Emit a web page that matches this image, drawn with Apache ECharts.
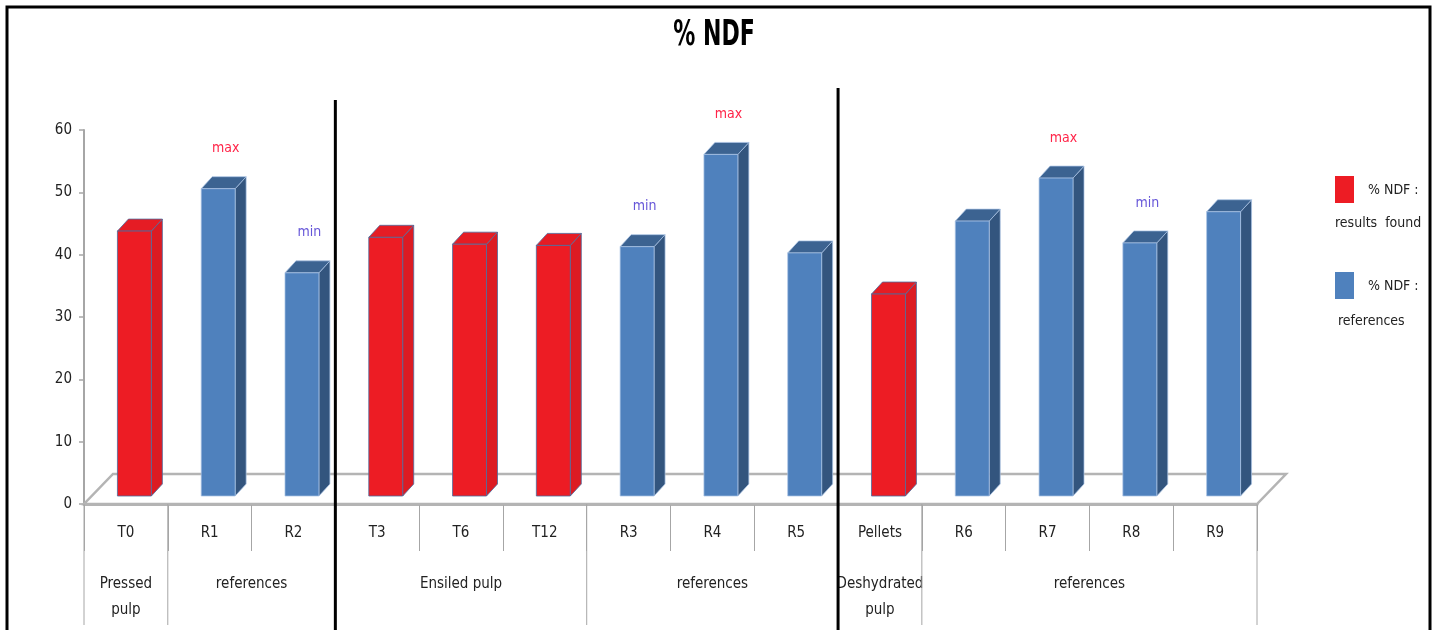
<!DOCTYPE html>
<html>
<head>
<meta charset="utf-8">
<title>% NDF</title>
<script src="https://cdn.jsdelivr.net/npm/echarts@6/dist/echarts.min.js"></script>
<style>
  html, body { margin: 0; padding: 0; background: #ffffff; }
  #chart { width: 1432px; height: 630px; }
</style>
</head>
<body>
<div id="chart"></div>
<script>
// Samples along the x axis
const categories = ['T0', 'R1', 'R2', 'T3', 'T6', 'T12', 'R3', 'R4', 'R5', 'Pellets', 'R6', 'R7', 'R8', 'R9'];

// % NDF measured in this work (null where the column is a literature reference)
const foundValues = [42.5, null, null, 41.5, 40.4, 40.2, null, null, null, 32.4, null, null, null, null];

// % NDF taken from the literature
const referenceValues = [null, 49.3, 35.8, null, null, null, 40.0, 54.8, 39.0, null, 44.1, 51.0, 40.6, 45.6];

// Extreme-value notes written above some reference columns
const extremeNotes = ['', 'max', 'min', '', '', '', 'min', 'max', '', '', '', 'max', 'min', ''];

// Second row of the category axis: product groups
const groupLabels = ['Pressed\npulp', 'references', 'Ensiled pulp', 'references', 'Deshydrated\npulp', 'references'];
const groupStart = [0, 1, 3, 6, 9, 10];
const groupEnd = [0, 2, 5, 8, 9, 13];

// Product families are separated by a heavy rule after these columns
const familyBreakAfter = [2, 8];

// Y axis ticks
const yTicks = [0, 10, 20, 30, 40, 50, 60];

const FONT = "'DejaVu Sans Condensed', 'DejaVu Sans', sans-serif";

// Pseudo-3D geometry (pixels)
const FRONT_DX = 8.5, FRONT_DY = -8;   // bar front plane behind the axis plane
const DEPTH_DX = 11, DEPTH_DY = -12;   // bar depth
const FLOOR_DX = 29, FLOOR_DY = -30;   // floor depth
const BAR_RATIO = 0.405;

const RED = { front: '#ED1C24', side: '#DC1B23', top: '#E51C24', edge: '#4d6c9e' };
const BLUE = { front: '#4F81BD', side: '#33557E', top: '#3C6391', edge: 'rgba(170,195,228,0.9)' };

function toPairs(arr) {
  const out = [];
  arr.forEach(function (v, i) { if (v !== null) out.push([i, v]); });
  return out;
}

function makeBarRenderer(palette) {
  return function (params, api) {
    const idx = api.value(0);
    const val = api.value(1);
    const top = api.coord([idx, val]);
    const base = api.coord([idx, 0]);
    const bw = api.size([1, 0])[0];
    const w = bw * BAR_RATIO;
    const cx = top[0] + FRONT_DX;
    const xl = cx - w / 2, xr = cx + w / 2;
    const yt = top[1] + FRONT_DY, yb = base[1] + FRONT_DY;
    const children = [
      { type: 'polygon', shape: { points: [[xr, yt], [xr + DEPTH_DX, yt + DEPTH_DY], [xr + DEPTH_DX, yb + DEPTH_DY], [xr, yb]] },
        style: { fill: palette.side, stroke: palette.edge, lineWidth: 0.8 } },
      { type: 'polygon', shape: { points: [[xl, yt], [xl + DEPTH_DX, yt + DEPTH_DY], [xr + DEPTH_DX, yt + DEPTH_DY], [xr, yt]] },
        style: { fill: palette.top, stroke: palette.edge, lineWidth: 0.8 } },
      { type: 'rect', shape: { x: xl, y: yt, width: w, height: yb - yt },
        style: { fill: palette.front, stroke: palette.edge, lineWidth: 0.8 } }
    ];
    const note = extremeNotes[idx];
    if (note) {
      children.push({
        type: 'text',
        style: {
          text: note, x: cx + DEPTH_DX / 2 + 2, y: yt + DEPTH_DY - 28,
          align: 'center', verticalAlign: 'middle',
          fill: note === 'max' ? '#FF2448' : '#6656D8',
          font: '14px ' + FONT
        }
      });
    }
    return { type: 'group', children: children };
  };
}

function renderFloor(params, api) {
  const bw = api.size([1, 0])[0];
  const a = api.coord([0, 0]);
  const b = api.coord([categories.length - 1, 0]);
  const x0 = a[0] - bw / 2, x1 = b[0] + bw / 2, y = a[1];
  return {
    type: 'polygon',
    shape: { points: [[x0, y], [x1, y], [x1 + FLOOR_DX, y + FLOOR_DY], [x0 + FLOOR_DX, y + FLOOR_DY]] },
    style: { fill: '#ffffff', stroke: '#B4B4B4', lineWidth: 2.5 }
  };
}

function renderGroup(params, api) {
  const s = api.value(0), e = api.value(1);
  const bw = api.size([1, 0])[0];
  const a = api.coord([s, 0]);
  const b = api.coord([e, 0]);
  const left = a[0] - bw / 2, right = b[0] + bw / 2, y = a[1];
  const children = [
    { type: 'line', shape: { x1: left, y1: y, x2: left, y2: y + 121 }, style: { stroke: '#A6A6A6', lineWidth: 1 } },
    { type: 'text', style: {
        text: groupLabels[params.dataIndex], x: (left + right) / 2, y: y + 67,
        align: 'center', verticalAlign: 'top', lineHeight: 26,
        fill: '#222222', font: '15px ' + FONT } }
  ];
  if (params.dataIndex === groupLabels.length - 1) {
    children.push({ type: 'line', shape: { x1: right, y1: y, x2: right, y2: y + 121 }, style: { stroke: '#A6A6A6', lineWidth: 1 } });
  }
  return { type: 'group', children: children };
}

const BREAK_TOPS = [100, 88];
function renderBreak(params, api) {
  const i = api.value(0);
  const bw = api.size([1, 0])[0];
  const p = api.coord([i, 0]);
  const x = p[0] + bw / 2;
  return { type: 'line', shape: { x1: x, y1: BREAK_TOPS[params.dataIndex], x2: x, y2: 632 },
           style: { stroke: '#000000', lineWidth: 3 } };
}

const chart = echarts.init(document.getElementById('chart'), null, { renderer: 'canvas' });

chart.setOption({
  animation: false,
  backgroundColor: '#ffffff',
  grid: { left: 84, right: 175, top: 130, bottom: 126 },
  xAxis: {
    type: 'category',
    data: categories,
    axisLine: { show: true, lineStyle: { color: '#B4B4B4', width: 3 } },
    axisTick: { show: true, interval: 0, length: 47, lineStyle: { color: '#A6A6A6', width: 1 } },
    axisLabel: { interval: 0, margin: 22, color: '#222222', fontSize: 15, fontFamily: FONT },
    splitLine: { show: false }
  },
  yAxis: {
    type: 'value',
    min: yTicks[0],
    max: yTicks[yTicks.length - 1],
    interval: yTicks[1] - yTicks[0],
    axisLine: { show: true, lineStyle: { color: '#A6A6A6', width: 2 } },
    axisTick: { show: true, length: 5, lineStyle: { color: '#A6A6A6', width: 1.5 } },
    axisLabel: { margin: 12, color: '#222222', fontSize: 15, fontFamily: FONT },
    splitLine: { show: false }
  },
  series: [
    { name: 'floor', type: 'custom', renderItem: renderFloor, data: [[0, 0]], clip: false, z: 1, silent: true },
    { name: '% NDF : results found', type: 'custom', renderItem: makeBarRenderer(RED), data: toPairs(foundValues), clip: false, z: 3 },
    { name: '% NDF : references', type: 'custom', renderItem: makeBarRenderer(BLUE), data: toPairs(referenceValues), clip: false, z: 3 },
    { name: 'groups', type: 'custom', renderItem: renderGroup,
      data: groupStart.map(function (s, i) { return [s, groupEnd[i]]; }), clip: false, z: 2, silent: true },
    { name: 'family breaks', type: 'custom', renderItem: renderBreak,
      data: familyBreakAfter.map(function (i) { return [i, 0]; }), clip: false, z: 5, silent: true }
  ],
  graphic: [
    { type: 'rect', shape: { x: 7, y: 7, width: 1423, height: 640 },
      style: { fill: 'none', stroke: '#000000', lineWidth: 3 }, z: 10, silent: true },
    { type: 'text', x: 714, y: 36, scaleX: 0.7, originX: 0, originY: 0,
      style: { text: '% NDF', align: 'center', verticalAlign: 'middle', fill: '#000000',
               font: 'bold 35px ' + FONT }, z: 10 },
    { type: 'rect', shape: { x: 1335, y: 176, width: 19, height: 27 }, style: { fill: '#ED1C24' } },
    { type: 'text', x: 1368, y: 190, style: { text: '% NDF :', verticalAlign: 'middle', fill: '#222222', font: '14px ' + FONT } },
    { type: 'text', x: 1335, y: 223, style: { text: 'results  found', verticalAlign: 'middle', fill: '#222222', font: '14px ' + FONT } },
    { type: 'rect', shape: { x: 1335, y: 272, width: 19, height: 27 }, style: { fill: '#4F81BD' } },
    { type: 'text', x: 1368, y: 286, style: { text: '% NDF :', verticalAlign: 'middle', fill: '#222222', font: '14px ' + FONT } },
    { type: 'text', x: 1338, y: 321, style: { text: 'references', verticalAlign: 'middle', fill: '#222222', font: '14px ' + FONT } }
  ]
});
</script>
</body>
</html>
